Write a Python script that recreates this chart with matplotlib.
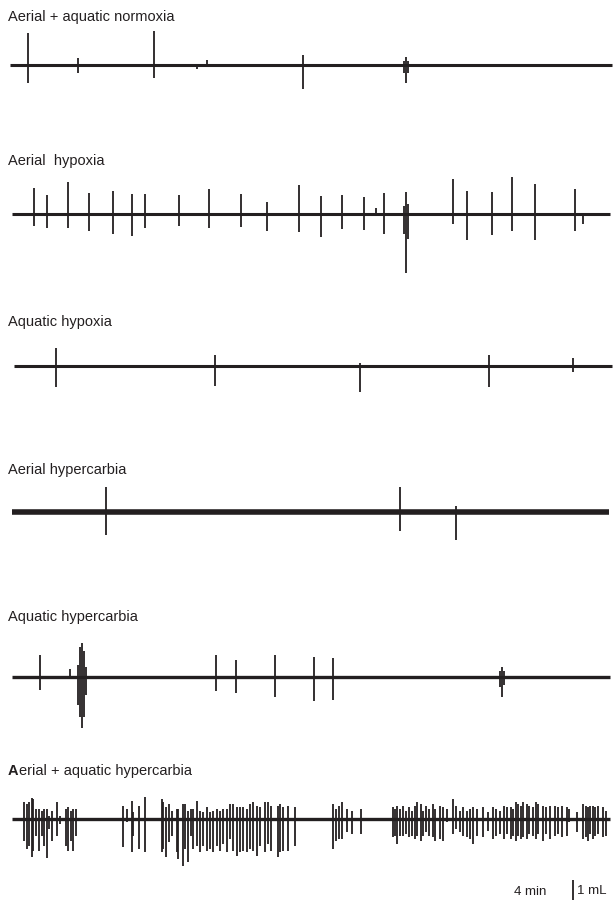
import matplotlib
matplotlib.use("Agg")
import matplotlib.pyplot as plt

# ------------------------------------------------------------------
# Data: breath events per condition (time in min, volume up/down in mL)
# ------------------------------------------------------------------
labels = [
    "Aerial + aquatic normoxia",
    "Aerial  hypoxia",
    "Aquatic hypoxia",
    "Aerial hypercarbia",
    "Aquatic hypercarbia",
    "Aerial + aquatic hypercarbia",
]

# trace start / end (min)
t_start = [1.0, 1.2, 1.4, 1.2, 1.2, 1.2]
t_end = [61.2, 61.0, 61.2, 60.9, 61.0, 61.0]

t1 = [2.8, 7.8, 15.4, 19.7, 20.7, 30.3, 40.4, 40.6, 40.8]
up1 = [1.6, 0.35, 1.7, 0.05, 0.25, 0.5, 0.2, 0.4, 0.2]
dn1 = [0.9, 0.4, 0.65, 0.2, 0.1, 1.2, 0.4, 0.9, 0.4]

t2 = [3.4, 4.7, 6.8, 8.9, 11.3, 13.2, 14.5, 17.9, 20.9, 24.1, 26.7, 29.9,
      32.1, 34.2, 36.4, 37.6, 38.4, 40.4, 40.6, 40.8, 45.3, 46.7, 49.2,
      51.2, 53.5, 57.5, 58.3]
up2 = [1.3, 0.95, 1.6, 1.05, 1.15, 1.0, 1.0, 0.95, 1.25, 1.0, 0.6, 1.45,
       0.9, 0.95, 0.85, 0.3, 1.05, 0.4, 1.1, 0.5, 1.75, 1.15, 1.1,
       1.85, 1.5, 1.25, 0.05]
dn2 = [0.6, 0.7, 0.7, 0.85, 1.0, 1.1, 0.7, 0.6, 0.7, 0.65, 0.85, 0.9,
       1.15, 0.75, 0.8, 0.05, 1.0, 1.0, 2.95, 1.25, 0.5, 1.3, 1.05,
       0.85, 1.3, 0.85, 0.5]

t3 = [5.6, 21.5, 36.0, 48.9, 57.3]
up3 = [0.9, 0.55, 0.15, 0.55, 0.4]
dn3 = [1.05, 1.0, 1.3, 1.05, 0.3]

t4 = [10.6, 40.0, 45.6]
up4 = [1.25, 1.25, 0.3]
dn4 = [1.15, 0.95, 1.4]

t5 = [4.0, 7.0, 7.8, 8.0, 8.2, 8.4, 8.6, 21.6, 23.6, 27.5, 31.4, 33.3,
      50.0, 50.2, 50.4]
up5 = [1.1, 0.4, 0.6, 1.5, 1.7, 1.3, 0.5, 1.1, 0.85, 1.1, 1.0, 0.95,
       0.3, 0.5, 0.3]
dn5 = [0.65, 0.05, 1.4, 2.0, 2.55, 2.0, 0.9, 0.7, 0.8, 1.0, 1.2, 1.15,
       0.5, 1.0, 0.4]

t6 = [2.4, 2.67, 2.93, 3.2, 3.33, 3.6, 3.9, 4.17, 4.4, 4.67, 4.93, 5.23,
      5.73, 6.0, 6.57, 6.83, 7.07, 7.33, 7.6,
      12.33, 12.67, 13.17, 13.33, 13.93, 14.5,
      16.17, 16.33, 16.6, 16.93, 17.17, 17.67, 17.83, 18.27, 18.5, 18.83,
      19.07, 19.33, 19.67, 20.0, 20.33, 20.67, 21.0, 21.33, 21.67, 22.0,
      22.33, 22.67, 23.0, 23.33, 23.73, 24.0, 24.33, 24.67, 25.0, 25.33,
      25.67, 26.0, 26.5, 26.83, 27.07, 27.83, 28.0, 28.33, 28.83, 29.5,
      33.33, 33.6, 33.93, 34.17, 34.67, 35.17, 36.1,
      39.27, 39.5, 39.73, 40.0, 40.33, 40.6, 40.93, 41.17, 41.5, 41.73,
      42.07, 42.33, 42.6, 42.93, 43.27, 43.5, 44.0, 44.33, 44.67,
      45.33, 45.6, 46.0, 46.33, 46.67, 47.0, 47.33, 47.67, 48.33, 48.83,
      49.27, 49.6, 50.0, 50.4, 50.67, 51.07, 51.33, 51.6, 51.83, 52.07,
      52.33, 52.67, 52.93, 53.27, 53.6, 53.83, 54.27, 54.6, 55.0, 55.5,
      55.83, 56.17, 56.67, 56.93, 57.73, 58.33, 58.6, 58.83, 59.0, 59.27,
      59.5, 59.83, 60.33, 60.6]
up6 = [0.83, 0.75, 0.83, 1.03, 1.0, 0.5, 0.5, 0.42, 0.5, 0.5, 0.17, 0.42,
       0.83, 0.17, 0.5, 0.58, 0.42, 0.5, 0.5,
       0.67, 0.5, 0.92, 0.33, 0.67, 1.08,
       1.0, 0.83, 0.58, 0.75, 0.42, 0.5, 0.5, 0.75, 0.75, 0.42,
       0.5, 0.5, 0.92, 0.42, 0.33, 0.58, 0.33, 0.42, 0.5, 0.42,
       0.5, 0.5, 0.75, 0.75, 0.58, 0.58, 0.58, 0.5, 0.75, 0.83,
       0.67, 0.58, 0.83, 0.83, 0.67, 0.67, 0.75, 0.58, 0.67, 0.58,
       0.75, 0.5, 0.67, 0.83, 0.5, 0.42, 0.5,
       0.58, 0.5, 0.67, 0.5, 0.67, 0.42, 0.58, 0.42, 0.67, 0.83,
       0.75, 0.42, 0.67, 0.5, 0.75, 0.5, 0.67, 0.58, 0.5,
       1.0, 0.67, 0.42, 0.58, 0.42, 0.5, 0.58, 0.5, 0.58, 0.33,
       0.58, 0.5, 0.42, 0.67, 0.58, 0.58, 0.5, 0.83, 0.75, 0.67,
       0.83, 0.75, 0.67, 0.58, 0.83, 0.75, 0.67, 0.58, 0.67, 0.67,
       0.58, 0.67, 0.58, 0.5, 0.33, 0.75, 0.67, 0.58, 0.67, 0.67,
       0.58, 0.67, 0.58, 0.42]
dn6 = [1.08, 1.5, 1.33, 1.92, 1.58, 0.83, 1.58, 0.83, 1.33, 1.97, 0.5, 1.08,
       0.83, 0.25, 1.33, 1.58, 1.08, 1.58, 0.83,
       1.42, 0.17, 1.67, 0.83, 1.5, 1.67,
       1.67, 1.5, 1.92, 1.17, 0.83, 1.67, 2.0, 2.33, 1.5, 2.17,
       0.83, 1.5, 1.33, 1.67, 1.33, 1.58, 1.5, 1.67, 1.33, 1.58,
       1.25, 1.67, 1.0, 1.58, 1.83, 1.67, 1.58, 1.67, 1.5, 1.58,
       1.83, 1.33, 1.67, 1.25, 1.58, 1.92, 1.67, 1.58, 1.58, 1.33,
       1.5, 1.08, 1.0, 1.0, 0.67, 0.75, 0.75,
       0.92, 0.83, 1.25, 0.83, 0.83, 0.75, 0.92, 0.83, 1.0, 0.83,
       1.08, 0.83, 0.67, 0.83, 0.92, 1.08, 1.0, 1.08, 0.17,
       0.75, 0.5, 0.67, 0.83, 0.92, 1.0, 1.25, 0.83, 0.92, 0.58,
       1.0, 0.83, 0.75, 1.0, 0.75, 1.0, 0.83, 1.08, 0.83, 1.0,
       0.92, 1.0, 0.75, 0.83, 1.0, 0.75, 1.08, 0.75, 1.0, 0.83,
       0.75, 0.92, 0.83, 0.17, 0.67, 1.0, 0.92, 1.08, 0.75, 1.0,
       0.83, 0.75, 0.92, 0.83]

event_times = [t1, t2, t3, t4, t5, t6]
event_up = [up1, up2, up3, up4, up5, up6]
event_down = [dn1, dn2, dn3, dn4, dn5, dn6]

# scale bar sizes
bar_volume = 1.0  # mL

# ------------------------------------------------------------------
# Layout / style
# ------------------------------------------------------------------
ink = "#231f20"
plt.rcParams["font.family"] = ["Liberation Sans", "DejaVu Sans"]

fig = plt.figure(figsize=(6.13, 9.04), dpi=100)
ax = fig.add_axes([0, 0, 1, 1])
ax.set_xlim(0, 61.3)
ax.set_ylim(0, 45.2)
ax.axis("off")

# vertical offset of each trace baseline (mL units on the shared axis)
offsets = [41.9, 34.45, 26.85, 19.55, 11.3, 4.2]
base_lw = [2.2, 2.2, 2.2, 4.0, 2.4, 2.4]
label_y = [0.981, 0.822, 0.644, 0.480, 0.318, 0.147]

for i in range(len(labels)):
    y0 = offsets[i]
    ax.plot([t_start[i], t_end[i]], [y0, y0], color=ink, lw=base_lw[i],
            solid_capstyle="butt")
    lo = [y0 - d for d in event_down[i]]
    hi = [y0 + u for u in event_up[i]]
    ax.vlines(event_times[i], lo, hi, color=ink, lw=1.3)

    if i < len(labels) - 1:
        fig.text(8 / 613, label_y[i], labels[i], fontsize=10.5, color=ink,
                 va="center", ha="left")
    else:
        # bold first letter, as in the figure
        first = fig.text(8 / 613, label_y[i], labels[i][0], fontsize=10.5,
                         color=ink, va="center", ha="left", fontweight="bold")
        ax.annotate(labels[i][1:], xy=(1, 0.5), xycoords=first, va="center",
                    ha="left", fontsize=10.5, color=ink)

# scale bars
ax.vlines([57.3], [0.15], [0.15 + bar_volume], color=ink, lw=1.3)
fig.text(530 / 613, 1 - 892 / 904, "4 min", fontsize=9.5, color=ink,
         ha="center", va="center")
fig.text(577 / 613, 1 - 891 / 904, "1 mL", fontsize=9.5, color=ink,
         ha="left", va="center")

fig.savefig("out.png", dpi=100)
